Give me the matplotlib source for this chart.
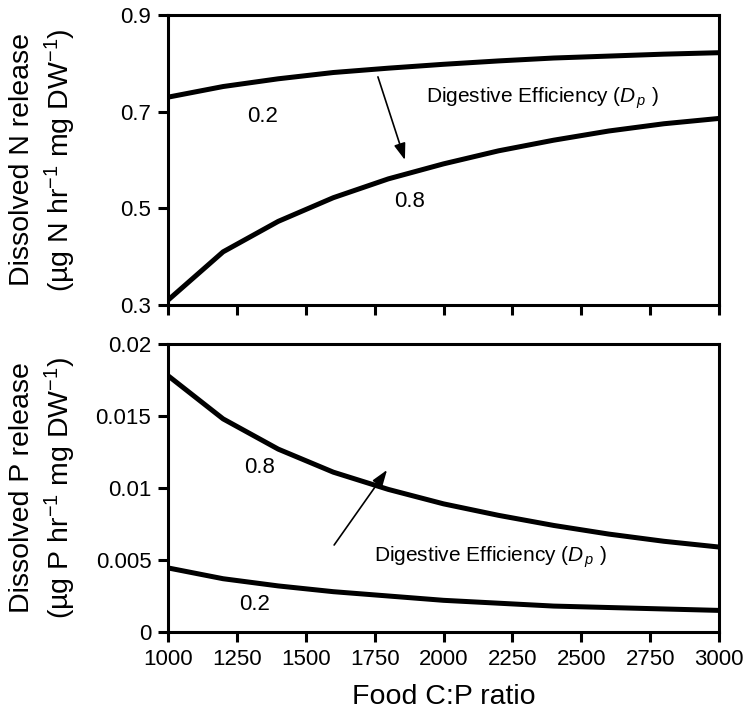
import matplotlib

matplotlib.use("Agg")
import matplotlib.pyplot as plt

plt.rcParams["font.family"] = ["Liberation Sans", "DejaVu Sans"]
plt.rcParams["mathtext.fontset"] = "custom"
plt.rcParams["mathtext.rm"] = "Liberation Sans"
plt.rcParams["mathtext.it"] = "Liberation Sans:italic"

food_cp = [1000, 1200, 1400, 1600, 1800, 2000, 2200, 2400, 2600, 2800, 3000]

n_release_02 = [0.730, 0.752, 0.768, 0.781, 0.790, 0.798, 0.805, 0.811, 0.815, 0.819, 0.822]
n_release_08 = [0.310, 0.410, 0.473, 0.522, 0.561, 0.592, 0.619, 0.641, 0.660, 0.675, 0.686]

p_release_08 = [0.0178, 0.0148, 0.0127, 0.0111, 0.0099, 0.0089, 0.0081, 0.0074, 0.0068, 0.0063, 0.0059]
p_release_02 = [0.00445, 0.0037, 0.0032, 0.0028, 0.0025, 0.0022, 0.0020, 0.0018, 0.0017, 0.0016, 0.0015]

x_ticks = [1000, 1250, 1500, 1750, 2000, 2250, 2500, 2750, 3000]
n_ticks = [0.3, 0.5, 0.7, 0.9]
p_ticks = [0, 0.005, 0.01, 0.015, 0.02]
p_tick_labels = ["0", "0.005", "0.01", "0.015", "0.02"]

W, H = 749, 717
fig = plt.figure(figsize=(W / 100, H / 100), dpi=100)
ax_n = fig.add_axes([168 / W, 1 - 305 / H, 551 / W, 290 / H])
ax_p = fig.add_axes([168 / W, 1 - 632 / H, 551 / W, 288 / H])

de_label = "Digestive Efficiency ($D_{\\,p}$ )"
arrow_style = dict(arrowstyle="-|>,head_length=1.0,head_width=0.35",
                   color="black", lw=1.2, shrinkA=0, shrinkB=0)
label_x = -0.163

for ax in (ax_n, ax_p):
    ax.set_xlim(1000, 3000)
    ax.set_xticks(x_ticks)
    for s in ax.spines.values():
        s.set_linewidth(2.2)
    ax.tick_params(direction="out", length=7, width=2.2, labelsize=16, pad=5)

ax_n.plot(food_cp, n_release_02, color="black", lw=3.6)
ax_n.plot(food_cp, n_release_08, color="black", lw=3.6)
ax_n.set_ylim(0.3, 0.9)
ax_n.set_yticks(n_ticks)
ax_n.set_yticklabels([f"{v:.1f}" for v in n_ticks])
ax_n.tick_params(axis="x", labelbottom=False)
ax_n.set_ylabel("Dissolved N release\n(µg N hr$^{-1}$ mg DW$^{-1}$)", fontsize=20.5,
                linespacing=1.3)
ax_n.yaxis.set_label_coords(label_x, 0.5)
ax_n.text(1345, 0.689, "0.2", fontsize=16, ha="center", va="center")
ax_n.text(1878, 0.515, "0.8", fontsize=16, ha="center", va="center")
ax_n.text(1935, 0.728, de_label, fontsize=15, ha="left", va="center")
ax_n.annotate("", xy=(1860, 0.600), xytext=(1762, 0.772), arrowprops=arrow_style)

ax_p.plot(food_cp, p_release_08, color="black", lw=3.6)
ax_p.plot(food_cp, p_release_02, color="black", lw=3.6)
ax_p.set_ylim(0, 0.02)
ax_p.set_yticks(p_ticks)
ax_p.set_yticklabels(p_tick_labels)
ax_p.set_xticklabels([str(v) for v in x_ticks])
ax_p.set_xlabel("Food C:P ratio", fontsize=20.5, labelpad=10)
ax_p.set_ylabel("Dissolved P release\n(µg P hr$^{-1}$ mg DW$^{-1}$)", fontsize=20.5,
                linespacing=1.3)
ax_p.yaxis.set_label_coords(label_x, 0.5)
ax_p.text(1334, 0.0114, "0.8", fontsize=16, ha="center", va="center")
ax_p.text(1316, 0.00194, "0.2", fontsize=16, ha="center", va="center")
ax_p.text(1748, 0.0052, de_label, fontsize=15, ha="left", va="center")
ax_p.annotate("", xy=(1795, 0.01125), xytext=(1603, 0.00604), arrowprops=arrow_style)

fig.savefig("out.png", dpi=100)
